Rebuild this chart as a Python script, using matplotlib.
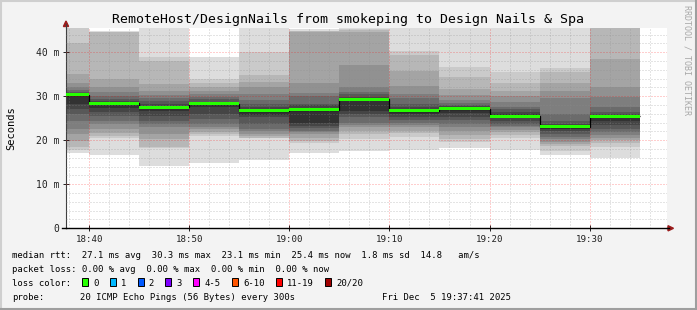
import matplotlib
matplotlib.use("Agg")
import matplotlib.pyplot as plt
from matplotlib.patches import Rectangle, Polygon
from matplotlib.lines import Line2D

# ---------------- data ----------------
interval_ends = ["18:40", "18:45", "18:50", "18:55", "19:00", "19:05",
                 "19:10", "19:15", "19:20", "19:25", "19:30", "19:35"]
median_ms = [30.3, 28.4, 27.5, 28.25, 26.7, 26.95, 29.3, 26.7, 27.2, 25.5, 23.1, 25.4]

# 20 sorted ping rtts (ms) per 5-minute step
pings_1840 = [17.0, 17.8, 18.5, 19.9, 21.4, 22.5, 24.4, 25.9, 27.0, 28.2,
              30.4, 30.6, 30.9, 31.4, 32.0, 33.1, 35.0, 42.0, 46.0, 47.0]
pings_1845 = [16.6, 20.4, 21.0, 21.6, 22.5, 23.7, 24.4, 25.5, 26.5, 27.4,
              28.6, 29.0, 29.4, 30.0, 31.0, 32.0, 33.9, 44.5, 44.7, 44.8]
pings_1850 = [14.1, 18.3, 18.4, 20.2, 21.4, 22.9, 23.6, 24.4, 25.5, 26.6,
              27.8, 28.2, 28.9, 29.5, 30.3, 31.3, 32.7, 38.0, 39.0, 47.0]
pings_1855 = [14.8, 21.0, 21.4, 21.9, 22.5, 23.1, 23.7, 24.8, 25.9, 27.6,
              28.4, 28.8, 29.3, 29.8, 30.5, 31.2, 32.0, 33.1, 33.9, 39.0]
pings_1900 = [15.5, 20.4, 20.6, 21.0, 21.4, 22.0, 22.5, 23.7, 25.2, 25.8,
              27.0, 27.5, 28.3, 29.1, 30.5, 32.0, 33.3, 34.8, 40.0, 46.0]
pings_1905 = [17.2, 19.4, 19.9, 20.6, 21.4, 21.8, 22.2, 22.8, 23.3, 24.0,
              27.3, 27.9, 28.2, 30.1, 30.8, 33.1, 44.7, 44.8, 44.9, 45.2]
pings_1910 = [17.6, 20.2, 21.4, 22.2, 22.9, 23.5, 24.0, 25.2, 26.0, 26.7,
              29.5, 29.9, 30.5, 31.0, 32.0, 37.2, 44.5, 45.0, 45.3, 45.6]
pings_1915 = [17.7, 20.8, 21.6, 22.2, 22.9, 23.4, 23.9, 24.5, 25.2, 26.0,
              27.0, 27.6, 28.2, 29.5, 30.5, 32.4, 35.8, 39.3, 40.3, 47.0]
pings_1920 = [18.2, 19.5, 20.2, 21.2, 22.1, 22.9, 23.7, 24.5, 25.2, 26.3,
              27.4, 27.7, 28.0, 28.5, 29.1, 30.2, 31.7, 34.4, 36.6, 47.0]
pings_1925 = [17.7, 20.6, 21.3, 21.8, 22.4, 22.9, 23.3, 23.7, 24.4, 25.0,
              26.0, 26.5, 27.0, 27.6, 28.6, 30.1, 31.2, 33.1, 35.5, 47.0]
pings_1930 = [16.6, 17.6, 18.6, 19.1, 19.7, 20.2, 20.8, 21.4, 22.0, 22.6,
              23.3, 23.8, 24.4, 25.9, 29.7, 31.2, 33.1, 35.4, 36.5, 47.0]
pings_1935 = [15.9, 18.5, 19.3, 20.0, 20.6, 21.2, 21.9, 22.6, 23.4, 24.3,
              25.6, 26.0, 26.4, 27.5, 29.8, 32.1, 38.5, 46.0, 46.5, 47.0]

y_ticks = [0, 10, 20, 30, 40]
y_tick_labels = ["0", "10 m", "20 m", "30 m", "40 m"]
x_tick_labels = ["18:40", "18:50", "19:00", "19:10", "19:20", "19:30"]

loss_labels = ["0", "1", "2", "3", "4-5", "6-10", "11-19", "20/20"]
loss_colors = ["#26ff00", "#00b8ff", "#0059ff", "#7e00ff", "#ff00ff",
               "#ff5500", "#ff0000", "#a00000"]

title = "RemoteHost/DesignNails from smokeping to Design Nails & Spa"
legend_rtt = "median rtt:  27.1 ms avg  30.3 ms max  23.1 ms min  25.4 ms now  1.8 ms sd  14.8   am/s"
legend_loss = "packet loss: 0.00 % avg  0.00 % max  0.00 % min  0.00 % now"
probe_text = "20 ICMP Echo Pings (56 Bytes) every 300s"
date_text = "Fri Dec  5 19:37:41 2025"

smoke_pings = [pings_1840, pings_1845, pings_1850, pings_1855, pings_1900, pings_1905,
               pings_1910, pings_1915, pings_1920, pings_1925, pings_1930, pings_1935]

# ---------------- layout helpers ----------------
W, H, DPI = 697, 310, 100
MONO = "DejaVu Sans Mono"
fig = plt.figure(figsize=(W / DPI, H / DPI), dpi=DPI, facecolor="#f3f3f3")


def fx(px):
    return px / W


def fy(py):
    return 1 - py / H


def tmin(label):
    h, m = label.split(":")
    return (int(h) - 18) * 60 + int(m)


PL, PR, PT, PB = 66, 666.5, 28, 228.3
ax = fig.add_axes([fx(PL), fy(PB), (PR - PL) / W, (PB - PT) / H])
ax.set_facecolor("white")
t_now = tmin("19:37") + 41 / 60
ax.set_xlim(t_now - 60, t_now)
ax.set_ylim(0, 45.5)

STEP = 5
ends = [tmin(l) for l in interval_ends]
starts = [e - STEP for e in ends]

# smoke: band k spans ping[k]..ping[19-k]
for s, p in zip(starts, smoke_pings):
    n = len(p)
    half = n // 2
    for k in range(half):
        g = int(190 / half * (half - 1 - k)) + 50
        col = "#%02x%02x%02x" % (g, g, g)
        ax.bar(s, p[n - 1 - k] - p[k], bottom=p[k], width=STEP, align="edge",
               color=col, linewidth=0, zorder=1, antialiased=False)

# grid (over the smoke)
minor_c = (0.55, 0.55, 0.55, 0.45)
major_c = (1.0, 0.0, 0.0, 0.38)
dots = (0, (1, 2))
for v in range(2, 46, 2):
    if v % 10:
        ax.axhline(v, color=minor_c, lw=0.72, ls=dots, zorder=3)
for v in y_ticks[1:]:
    ax.axhline(v, color=major_c, lw=0.72, ls=dots, zorder=3)
t0 = int(ax.get_xlim()[0]) + 1
for t in range(t0, int(t_now) + 1):
    if t % 2 == 0 and t % 10:
        ax.axvline(t, color=minor_c, lw=0.72, ls=dots, zorder=3)
xt = [tmin(l) for l in x_tick_labels]
for t in xt:
    ax.axvline(t, color=major_c, lw=0.72, ls=dots, zorder=3)

# median: black step line + green loss band
edges = starts + [ends[-1]]
ax.stairs(median_ms, edges, baseline=None, color="black", lw=0.9, zorder=4)
hw = 0.34
for s, m in zip(starts, median_ms):
    ax.bar(s, 2 * hw, bottom=m - hw, width=STEP, align="edge",
           color=loss_colors[0], linewidth=0, zorder=5, antialiased=False)

# axes styling
for sp in ["top", "right"]:
    ax.spines[sp].set_visible(False)
ax.spines["left"].set_color("#404040")
ax.spines["left"].set_linewidth(0.8)
ax.spines["bottom"].set_color("black")
ax.spines["bottom"].set_linewidth(1.0)
ax.set_yticks(y_ticks)
ax.set_yticklabels(y_tick_labels, family=MONO, fontsize=7.0)
ax.set_xticks(xt)
ax.set_xticklabels(x_tick_labels, family=MONO, fontsize=6.6)
ax.tick_params(axis="y", direction="inout", length=4, width=0.7, pad=3, colors="#202020")
ax.tick_params(axis="x", direction="inout", length=4, width=0.7, pad=3, colors="#202020")

# axis arrows
arrow_c = "#9b1c1c"
fig.add_artist(Line2D([fx(PL), fx(PL)], [fy(PT), fy(24)], color="#404040", lw=0.8))
fig.add_artist(Polygon([[fx(PL - 2.6), fy(26.5)], [fx(PL + 2.6), fy(26.5)], [fx(PL), fy(21)]],
                       closed=True, color=arrow_c, transform=fig.transFigure))
fig.add_artist(Line2D([fx(62), fx(PL)], [fy(PB), fy(PB)], color="black", lw=1.0))
fig.add_artist(Line2D([fx(PR), fx(669)], [fy(PB), fy(PB)], color="black", lw=1.0))
fig.add_artist(Polygon([[fx(668), fy(PB - 2.6)], [fx(668), fy(PB + 2.6)], [fx(673.5), fy(PB)]],
                       closed=True, color=arrow_c, transform=fig.transFigure))

# texts
fig.text(fx(347.5), fy(23.3), title, ha="center", va="baseline", family=MONO,
         fontsize=9.55, color="black")
fig.text(fx(11), fy(128), "Seconds", ha="center", va="center", rotation=90,
         family=MONO, fontsize=7.5, color="black")
fig.text(fx(687), fy(60), "RRDTOOL / TOBI OETIKER", ha="center", va="center",
         rotation=270, family=MONO, fontsize=6.0, color="#a8a8a8")

LF = 6.4
CW = 5.33
fig.text(fx(12), fy(258.5), legend_rtt, family=MONO, fontsize=LF, va="baseline")
fig.text(fx(12), fy(272.2), legend_loss, family=MONO, fontsize=LF, va="baseline")
fig.text(fx(12), fy(286.0), "loss color:", family=MONO, fontsize=LF, va="baseline")
bx = 82
for lab, col in zip(loss_labels, loss_colors):
    fig.add_artist(Rectangle((fx(bx), fy(286)), 6 / W, 8.3 / H, transform=fig.transFigure,
                             facecolor=col, edgecolor="black", lw=0.7))
    lx = bx + 11.2
    fig.text(fx(lx), fy(286.0), lab, family=MONO, fontsize=LF, va="baseline")
    bx = lx + len(lab) * CW + 11.3
fig.text(fx(12), fy(299.7), "probe:", family=MONO, fontsize=LF, va="baseline")
fig.text(fx(80), fy(299.7), probe_text, family=MONO, fontsize=LF, va="baseline")
fig.text(fx(510.5), fy(299.7), date_text, family=MONO, fontsize=LF, va="baseline", ha="right")

# 3-D frame
fig.add_artist(Line2D([0, 1], [fy(0.5), fy(0.5)], color="#cfcfcf", lw=1.5))
fig.add_artist(Line2D([fx(0.5), fx(0.5)], [0, 1], color="#cfcfcf", lw=1.5))
fig.add_artist(Line2D([0, 1], [fy(309.3), fy(309.3)], color="#9e9e9e", lw=1.5))
fig.add_artist(Line2D([fx(696.3), fx(696.3)], [0, 1], color="#9e9e9e", lw=1.5))

fig.savefig("out.png", dpi=DPI, facecolor=fig.get_facecolor())
